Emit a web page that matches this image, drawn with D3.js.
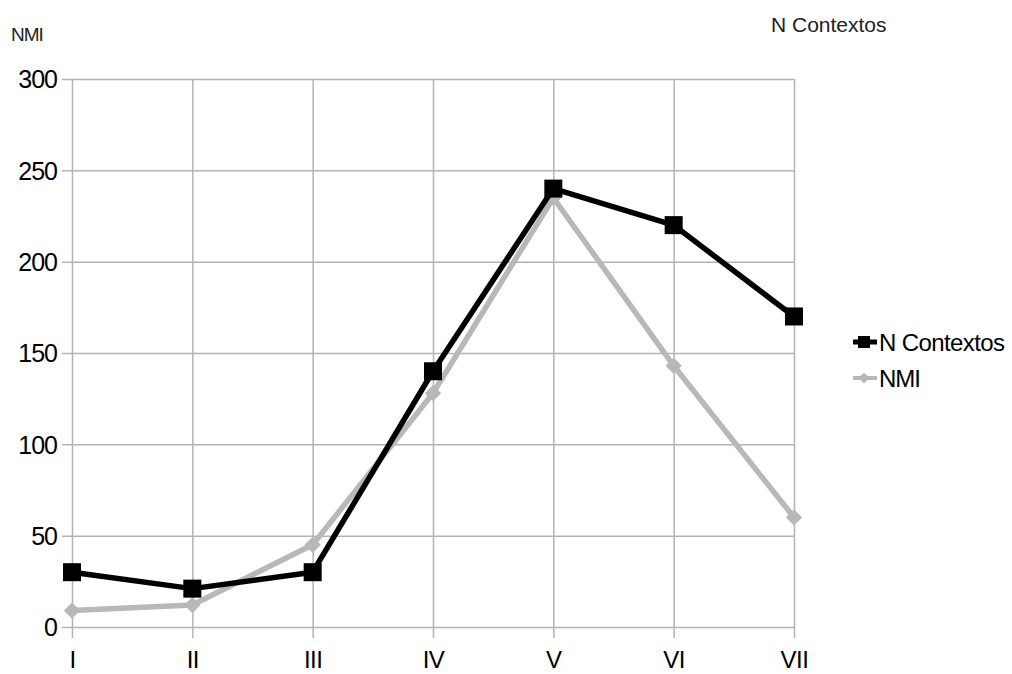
<!DOCTYPE html>
<html><head><meta charset="utf-8">
<script src="https://cdn.jsdelivr.net/npm/d3@7"></script>
<style>body{margin:0;background:#fff;}svg{display:block;}</style>
</head><body>
<svg id="c" width="1012" height="674"></svg>
<script>
const categories = ["I","II","III","IV","V","VI","VII"];
const nContextos = [30, 21, 30, 140, 240, 220, 170];
const nmi = [9, 12, 45, 128, 235, 143, 60];
const yTicks = [0, 50, 100, 150, 200, 250, 300];
const seriesNames = ["N Contextos", "NMI"];

const svg = d3.select("#c");
const L = 72, R = 794, T = 79, B = 627;
const x = d3.scalePoint().domain(categories).range([L, R]);
const y = d3.scaleLinear().domain([0, 300]).range([B, T]);
const grid = "#b3b3b3";
const font = "'Liberation Sans', Arial, sans-serif";

// horizontal grid + y ticks
const yAxis = d3.axisLeft(y).tickValues(yTicks).tickSize(L - R).tickSizeOuter(0).tickPadding(0);
const gy = svg.append("g").attr("transform", `translate(${R},0)`).call(yAxis);
gy.select(".domain").remove();
gy.selectAll(".tick line").attr("stroke", grid).attr("stroke-width", 1.5).attr("x2", -(R - L) - 10);
gy.selectAll(".tick text").attr("x", -(R - L) - 15).attr("dy", "0.35em")
  .attr("font-family", font).attr("font-size", 25).attr("letter-spacing", -1).attr("fill", "#000");

// vertical grid + x ticks
const xAxis = d3.axisBottom(x).tickSize(-(B - T)).tickSizeOuter(0);
const gx = svg.append("g").attr("transform", `translate(0,${B})`).call(xAxis);
gx.select(".domain").remove();
gx.selectAll(".tick line").attr("stroke", grid).attr("stroke-width", 1.5).attr("y2", 11).attr("y1", -(B - T));
gx.selectAll(".tick text").attr("y", 41).attr("dy", 0)
  .attr("font-family", font).attr("font-size", 24).attr("letter-spacing", -0.5).attr("fill", "#000");

const line = d3.line().x((d, i) => x(categories[i])).y(d => y(d));

// NMI series (gray)
svg.append("path").datum(nmi).attr("d", line).attr("fill", "none")
  .attr("stroke", "#b8b8b8").attr("stroke-width", 5.5).attr("stroke-linejoin", "round");
svg.selectAll(".dm").data(nmi).enter().append("path")
  .attr("d", d3.symbol(d3.symbolDiamond2, 170)())
  .attr("transform", (d, i) => `translate(${x(categories[i])},${y(d)})`)
  .attr("fill", "#b8b8b8");

// N Contextos series (black)
svg.append("path").datum(nContextos).attr("d", line).attr("fill", "none")
  .attr("stroke", "#000").attr("stroke-width", 5.5).attr("stroke-linejoin", "round");
svg.selectAll(".sq").data(nContextos).enter().append("rect")
  .attr("x", (d, i) => x(categories[i]) - 9).attr("y", d => y(d) - 9)
  .attr("width", 18).attr("height", 18).attr("fill", "#000");

// titles
svg.append("text").attr("x", 11).attr("y", 41).text("NMI")
  .attr("font-family", font).attr("font-size", 19).attr("letter-spacing", -1).attr("fill", "#222");
svg.append("text").attr("x", 771).attr("y", 32).text("N Contextos")
  .attr("font-family", font).attr("font-size", 21).attr("fill", "#222");

// legend
const lg = svg.append("g");
lg.append("line").attr("x1", 853).attr("x2", 877).attr("y1", 342).attr("y2", 342).attr("stroke", "#000").attr("stroke-width", 5);
lg.append("rect").attr("x", 858).attr("y", 336).attr("width", 12).attr("height", 12).attr("fill", "#000");
lg.append("text").attr("x", 879).attr("y", 351).text(seriesNames[0])
  .attr("font-family", font).attr("font-size", 24).attr("letter-spacing", -0.6).attr("fill", "#000");
lg.append("line").attr("x1", 853).attr("x2", 877).attr("y1", 378).attr("y2", 378).attr("stroke", "#b8b8b8").attr("stroke-width", 4);
lg.append("path").attr("d", d3.symbol(d3.symbolDiamond2, 80)()).attr("transform", "translate(864,378)").attr("fill", "#b8b8b8");
lg.append("text").attr("x", 879).attr("y", 387).text(seriesNames[1])
  .attr("font-family", font).attr("font-size", 24).attr("letter-spacing", -1).attr("fill", "#000");
</script>
</body></html>
